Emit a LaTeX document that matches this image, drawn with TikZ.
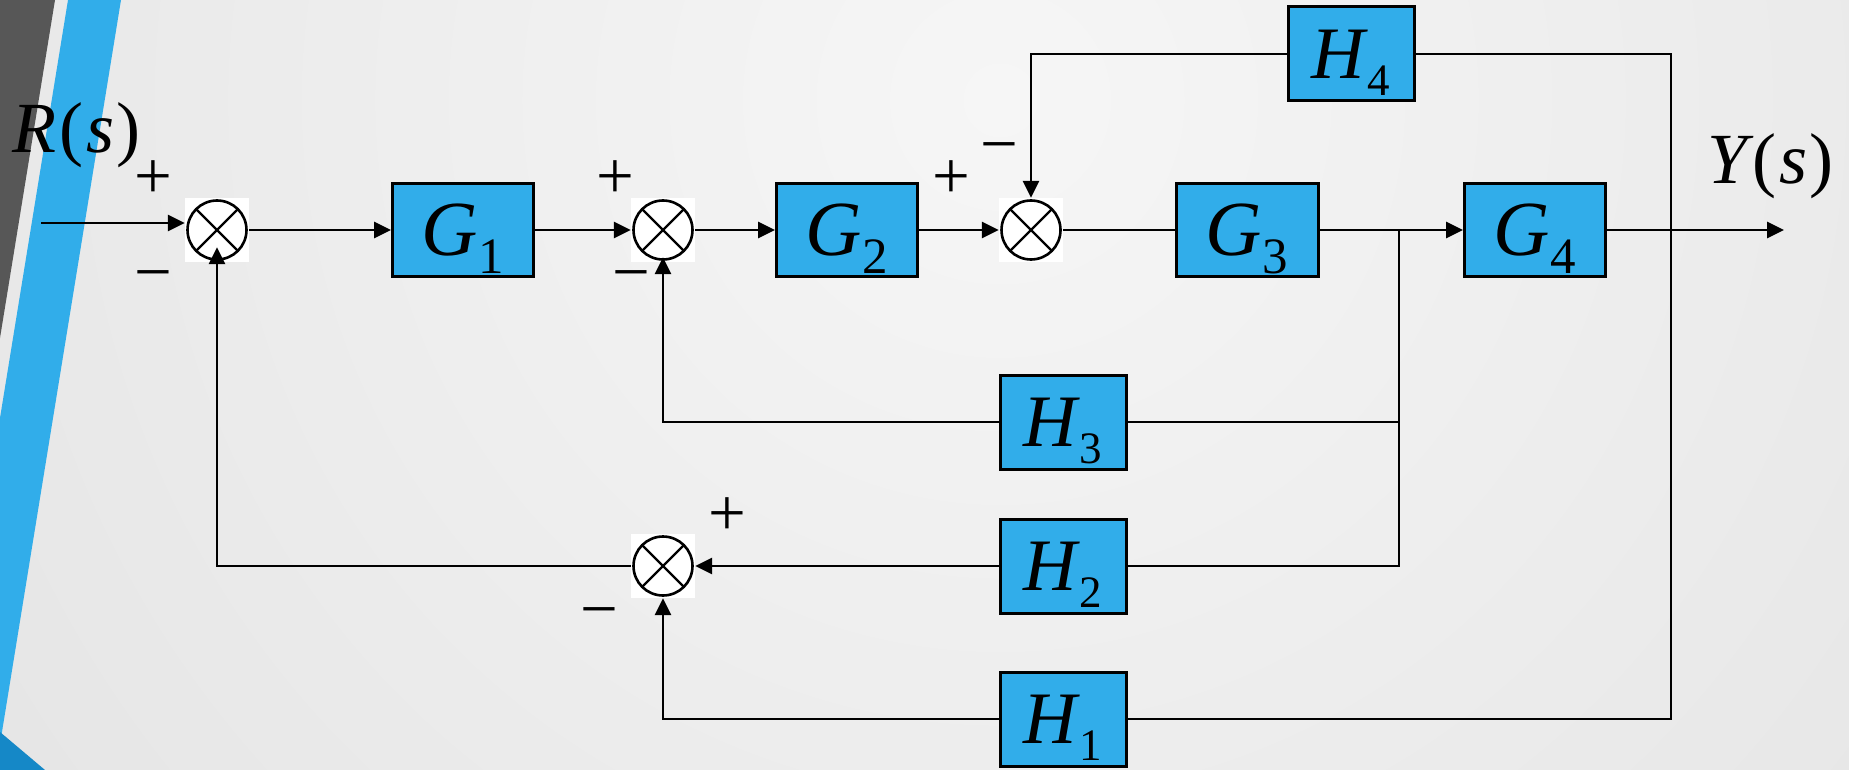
\documentclass[tikz,border=0pt]{standalone}
\usepackage{fontspec}
\setmainfont{Liberation Serif}
\usetikzlibrary{arrows.meta,calc}
\definecolor{boxblue}{RGB}{49,173,234}
\definecolor{darkstripe}{RGB}{87,87,87}
\definecolor{deepblue}{RGB}{21,136,199}
\definecolor{bglight}{RGB}{246,246,246}
\definecolor{bgdark}{RGB}{212,212,212}
\newcommand\blocklabel[2]{{\itshape #1}\kern1pt\raisebox{-18pt}{\fontsize{51}{54}\selectfont #2}}
\newcommand\fblabel[2]{{\itshape #1}\kern3pt\raisebox{-17pt}{\fontsize{45}{48}\selectfont #2}}
\begin{document}
\begin{tikzpicture}[x=1pt,y=-1pt,
  blockbox/.style={draw=black, line width=3pt, fill=boxblue, minimum width=141pt, minimum height=93pt, inner sep=0pt, text depth=0pt, font=\fontsize{78}{82}\selectfont},
  hbox/.style={blockbox, minimum width=126pt, minimum height=94pt, font=\fontsize{74}{78}\selectfont},
  sumnode/.style={rectangle, fill=white, minimum size=64pt, inner sep=0pt,
    path picture={
      \draw[line width=2.6pt] (path picture bounding box.center) circle (29.5pt);
      \draw[line width=2.2pt] ([shift={(-21,-21)}]path picture bounding box.center) -- ([shift={(21,21)}]path picture bounding box.center);
      \draw[line width=2.2pt] ([shift={(-21,21)}]path picture bounding box.center) -- ([shift={(21,-21)}]path picture bounding box.center);
    }},
  conn/.style={line width=2.7pt, draw=black},
  arr/.style={conn, -{Triangle[length=17pt,width=16pt]}},
  sign/.style={anchor=base, font=\fontsize{67}{70}\selectfont, inner sep=0pt},
  sigtext/.style={anchor=base west, inner sep=0pt, font=\fontsize{72}{76}\selectfont}
]
\useasboundingbox (0,0) rectangle (1849,770);
\begin{scope}
  \clip (0,0) rectangle (1849,770);
  \shade[inner color=bglight, outer color=bgdark] (1000,100) circle (2500pt);
  \fill[darkstripe] (0,0) -- (55,0) -- (0,338) -- cycle;
  \fill[boxblue] (68,0) -- (121,0) -- (1,738) -- (0,738) -- (0,418) -- cycle;
  \fill[deepblue] (0,732) -- (45,770) -- (0,770) -- cycle;
\end{scope}

\node[sumnode] (s1) at (217,230) {};
\node[sumnode] (s2) at (663,230) {};
\node[sumnode] (s3) at (1031,230) {};
\node[sumnode] (s4) at (663,566) {};
\node[blockbox] (G1) at (463,230) {\blocklabel{G}{1}};
\node[blockbox] (G2) at (847,230) {\blocklabel{G}{2}};
\node[blockbox, minimum width=142pt] (G3) at (1247,230) {\blocklabel{G}{3}};
\node[blockbox] (G4) at (1535,230) {\blocklabel{G}{4}};
\node[hbox] (H4) at (1351,54) {\fblabel{H}{4}};
\node[hbox] (H3) at (1063,422) {\fblabel{H}{3}};
\node[hbox] (H2) at (1063,566) {\fblabel{H}{2}};
\node[hbox] (H1) at (1063,719) {\fblabel{H}{1}};

\coordinate (in) at (41,223);
\coordinate (out) at (1784,230);
\coordinate (b1) at (1399,230);
\coordinate (b2) at (1671,230);

\draw[arr] (in) -- (in -| s1.west);
\draw[arr] (s1.east) -- (G1.west);
\draw[arr] (G1.east) -- (s2.west);
\draw[arr] (s2.east) -- (G2.west);
\draw[arr] (G2.east) -- (s3.west);
\draw[conn] (s3.east) -- (G3.west);
\draw[arr] (G3.east) -- (G4.west);
\draw[arr] (G4.east) -- (out);
\draw[conn] (b2) -- (b2 |- H4.east) -- (H4.east);
\draw[arr] (H4.west) -- (s3.north |- H4.west) -- (s3.north);
\draw[conn] (b1) -- (b1 |- H2.east) -- (H2.east);
\draw[conn] (H3.east) -- (b1 |- H3.east);
\draw[arr] (H3.west) -- (s2.south |- H3.west) -- ([yshift=5pt]s2.south);
\draw[arr] (H2.west) -- (s4.east);
\draw[arr, shorten >=-15pt] (s4.west) -- (s1.south |- s4.west) -- (s1.south);
\draw[arr] (H1.west) -- (s4.south |- H1.west) -- (s4.south);
\draw[conn] (b2) -- (b2 |- H1.east) -- (H1.east);

\node[sign] (p1) at (153,199) {+};
\node[sign] (m1) at (153,294) {−};
\node[sign] (p2) at (615,199) {+};
\node[sign] (m2) at (631,294) {−};
\node[sign] (p3) at (951,199) {+};
\node[sign] (m3) at (999,167) {−};
\node[sign] (p4) at (727,535) {+};
\node[sign] (m4) at (599,631) {−};

\node[sigtext] (R) at (12,153) {{\itshape R}\kern3pt(\kern3pt{\itshape s}\kern2pt)};
\node[sigtext] (Y) at (1707,184) {{\itshape Y}\kern5pt(\kern3pt{\itshape s}\kern2pt)};
\end{tikzpicture}
\end{document}
